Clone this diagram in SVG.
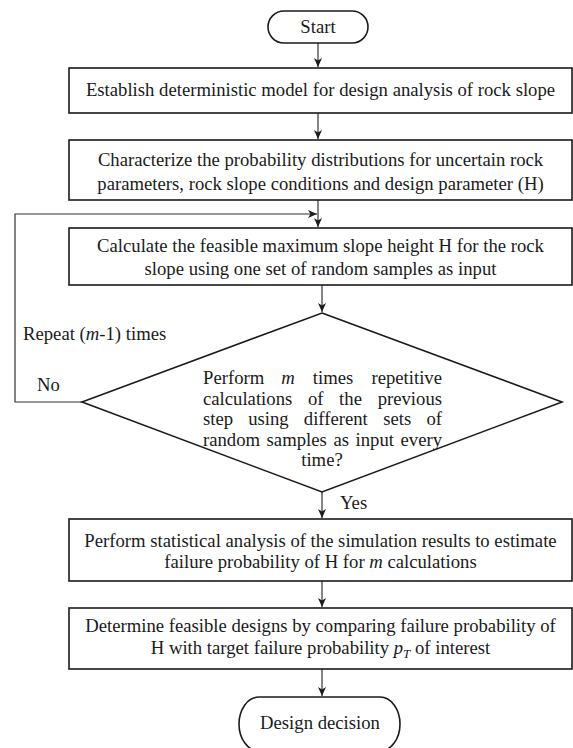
<svg xmlns="http://www.w3.org/2000/svg" width="573" height="748" viewBox="0 0 573 748">
<defs>
<style>
.box{fill:#fff;stroke:#1a1a1a;stroke-width:1.6}
.t{font-family:"Liberation Serif","Times New Roman",serif;font-size:18.7px;fill:#1a1a1a}
.c{text-anchor:middle}
.conn{fill:none;stroke:#333;stroke-width:1.2}
</style>
<marker id="ah" markerWidth="10" markerHeight="10" refX="9" refY="4" orient="auto" markerUnits="userSpaceOnUse">
<path d="M0,0 L9,4 L0,8 L2.5,4 z" fill="#1a1a1a"/>
</marker>
</defs>
<rect width="573" height="748" fill="#fff"/>
<g id="connectors">
<line class="conn" x1="318" y1="43" x2="318" y2="67" marker-end="url(#ah)"/>
<line class="conn" x1="318" y1="113" x2="318" y2="139" marker-end="url(#ah)"/>
<line class="conn" x1="318" y1="200" x2="318" y2="227" marker-end="url(#ah)"/>
<line class="conn" x1="322" y1="285" x2="322" y2="312" marker-end="url(#ah)"/>
<polyline class="conn" points="82,402 15,402 15,214 317,214" marker-end="url(#ah)"/>
<line class="conn" x1="322" y1="492" x2="322" y2="518" marker-end="url(#ah)"/>
<line class="conn" x1="322" y1="581" x2="322" y2="607" marker-end="url(#ah)"/>
<line class="conn" x1="322" y1="669" x2="322" y2="696" marker-end="url(#ah)"/>
<text class="t" x="23" y="340">Repeat (<tspan font-style="italic">m</tspan>-1) times</text>
<text class="t" x="37" y="391">No</text>
<text class="t" x="340" y="509">Yes</text>
</g>
<g id="start">
<rect class="box" x="268" y="11" width="100" height="32" rx="16" ry="16"/>
<text class="t c" x="318" y="33">Start</text>
</g>
<g id="step1">
<rect class="box" x="69" y="68" width="503" height="45"/>
<text class="t c" x="320.5" y="96">Establish deterministic model for design analysis of rock slope</text>
</g>
<g id="step2">
<rect class="box" x="69" y="140" width="503" height="60"/>
<text class="t c" x="320.5" y="166">Characterize the probability distributions for uncertain rock</text>
<text class="t c" x="320.5" y="190">parameters, rock slope conditions and design parameter (H)</text>
</g>
<g id="step3">
<rect class="box" x="69" y="228" width="503" height="57"/>
<text class="t c" x="320.5" y="252">Calculate the feasible maximum slope height H for the rock</text>
<text class="t c" x="320.5" y="275">slope using one set of random samples as input</text>
</g>
<g id="decision">
<polygon class="box" points="322,313 562,402 322,492 82,402"/>
<text class="t" y="384"><tspan x="203">Perform</tspan><tspan x="281.3" font-style="italic">m</tspan><tspan x="312.8">times</tspan><tspan x="442" text-anchor="end">repetitive</tspan></text>
<text class="t" y="404.5"><tspan x="203">calculations</tspan><tspan x="307.9">of</tspan><tspan x="339.1">the</tspan><tspan x="442" text-anchor="end">previous</tspan></text>
<text class="t" y="425"><tspan x="203">step</tspan><tspan x="248.2">using</tspan><tspan x="303.8">different</tspan><tspan x="383.3">sets</tspan><tspan x="442" text-anchor="end">of</tspan></text>
<text class="t" y="445.5"><tspan x="203">random</tspan><tspan x="266.6">samples</tspan><tspan x="333.4">as</tspan><tspan x="355.5">input</tspan><tspan x="442" text-anchor="end">every</tspan></text>
<text class="t c" x="322" y="466">time?</text>
</g>
<g id="step4">
<rect class="box" x="69" y="519" width="503" height="62"/>
<text class="t c" x="320.5" y="547">Perform statistical analysis of the simulation results to estimate</text>
<text class="t c" x="320.5" y="568">failure probability of H for <tspan font-style="italic">m</tspan> calculations</text>
</g>
<g id="step5">
<rect class="box" x="69" y="608" width="503" height="61"/>
<text class="t c" x="320.5" y="632">Determine feasible designs by comparing failure probability of</text>
<text class="t c" x="320.5" y="654">H with target failure probability <tspan font-style="italic">p</tspan><tspan font-style="italic" font-size="13" dy="4">T</tspan><tspan dy="-4"> of interest</tspan></text>
</g>
<g id="end">
<rect class="box" x="239" y="697" width="161" height="54" rx="20" ry="27"/>
<text class="t c" x="320" y="729">Design decision</text>
</g>
</svg>
